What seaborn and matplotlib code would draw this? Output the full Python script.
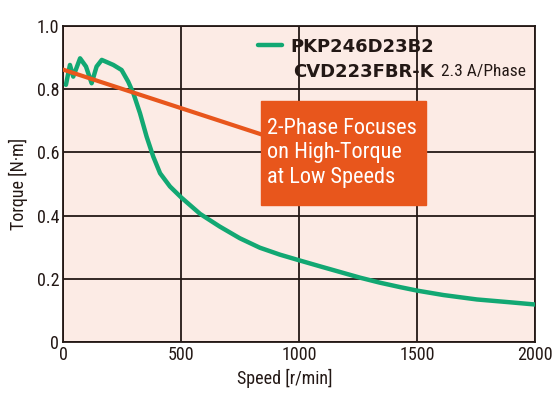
import matplotlib
matplotlib.use("Agg")
import matplotlib.pyplot as plt
import matplotlib.patches as mpatches
from matplotlib import font_manager
import pandas as pd
import seaborn as sns

# ----------------------------------
# Data
# ----------------------------------
speed = [11, 28, 42, 71, 96, 120, 141, 163, 212, 247, 275, 297, 325, 353, 381,
         410, 452, 500, 580, 663, 748, 833, 918, 1000, 1088, 1173, 1258, 1343,
         1428, 1500, 1611, 1753, 1894, 2000]
torque = [0.814, 0.877, 0.840, 0.898, 0.872, 0.819, 0.872, 0.893, 0.877, 0.861,
          0.824, 0.787, 0.724, 0.650, 0.587, 0.534, 0.492, 0.457, 0.405, 0.365,
          0.328, 0.298, 0.276, 0.258, 0.239, 0.221, 0.203, 0.187, 0.173, 0.162,
          0.148, 0.134, 0.125, 0.118]

trend_speed = [0, 860]
trend_torque = [0.862, 0.652]

x_ticks = [0, 500, 1000, 1500, 2000]
x_labels = ["0", "500", "1000", "1500", "2000"]
y_ticks = [0, 0.2, 0.4, 0.6, 0.8, 1.0]
y_labels = ["0", "0.2", "0.4", "0.6", "0.8", "1.0"]

motor_name = "PKP246D23B2"
driver_name = "CVD223FBR-K"
current_text = "2.3 A/Phase"
callout = "2-Phase Focuses\non High-Torque\nat Low Speeds"

GREEN = "#12a873"
ORANGE = "#e8561c"
BG = "#fcebe5"
INK = "#231815"

# narrow font like the original if we have one
names = {f.name for f in font_manager.fontManager.ttflist}
narrow = "DejaVu Sans"
for cand in ["Liberation Sans Narrow", "Roboto Condensed", "Open Sans Condensed"]:
    if cand in names:
        narrow = cand
        break

sns.set_theme(style="white")
plt.rcParams["font.family"] = [narrow, "DejaVu Sans"]

df = pd.DataFrame({"speed": speed, "torque": torque})
trend = pd.DataFrame({"speed": trend_speed, "torque": trend_torque})

fig = plt.figure(figsize=(5.58, 3.96), dpi=100)
ax = fig.add_axes([0.1135, 0.137, 0.8455, 0.797])
ax.set_facecolor(BG)

sns.lineplot(data=df, x="speed", y="torque", color=GREEN, lw=3.2, ax=ax,
             label=motor_name, zorder=3)
sns.lineplot(data=trend, x="speed", y="torque", color=ORANGE, lw=3.0, ax=ax,
             zorder=4)

ax.set_xlim(0, 2000)
ax.set_ylim(0, 1.0)
ax.set_xticks(x_ticks)
ax.set_xticklabels(x_labels)
ax.set_yticks(y_ticks)
ax.set_yticklabels(y_labels)
ax.tick_params(length=0, labelsize=13, colors=INK, pad=3)
ax.grid(True, color=INK, lw=1.3)
for s in ax.spines.values():
    s.set_color(INK)
    s.set_linewidth(1.3)

ax.set_xlabel("Speed [r/min]", fontsize=13, color=INK)
ax.set_ylabel("Torque [N·m]", fontsize=13, color=INK)
ax.xaxis.set_label_coords(0.47, -0.085)
ax.yaxis.set_label_coords(-0.075, 0.5)

# callout box
box = mpatches.Rectangle((838, 0.433), 699, 0.331, color=ORANGE, zorder=5)
ax.add_patch(box)
ax.text(864, 0.599, callout, color="white", fontsize=16, va="center",
        ha="left", linespacing=1.22, zorder=6)

# legend: one line entry, the second line is plain text
leg = ax.legend(loc="center left", bbox_to_anchor=(0.413, 0.935), frameon=False,
                borderpad=0, borderaxespad=0,
                handlelength=1.3, handletextpad=0.5,
                prop={"family": "DejaVu Sans", "weight": "bold", "size": 13})
leg.get_texts()[0].set_color(INK)
ax.text(0.487, 0.855, driver_name, transform=ax.transAxes, fontsize=13,
        fontweight="bold", family="DejaVu Sans", color=INK, va="center")
ax.text(0.801, 0.855, current_text, transform=ax.transAxes, fontsize=12.5,
        color=INK, va="center")

fig.savefig("out.png", dpi=100, facecolor="white")
